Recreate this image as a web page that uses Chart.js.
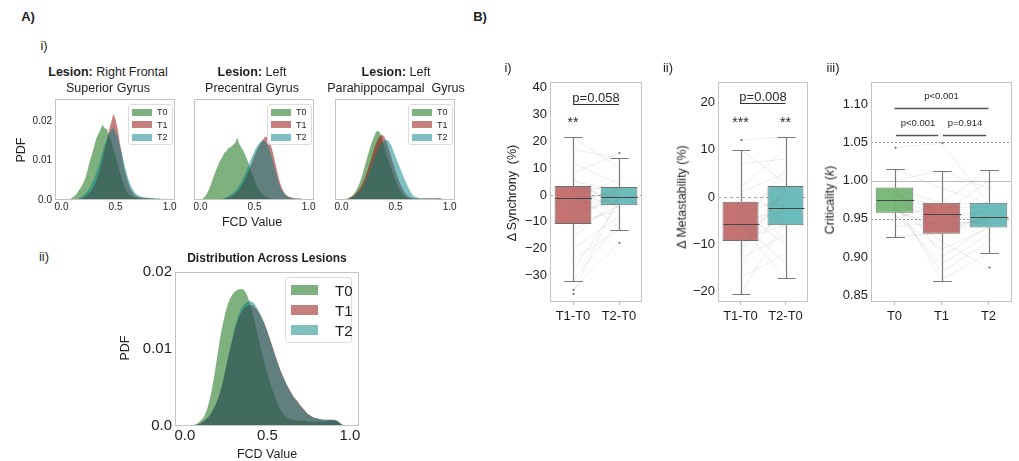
<!DOCTYPE html>
<html><head><meta charset="utf-8">
<script src="https://cdn.jsdelivr.net/npm/chart.js@4.4.1/dist/chart.umd.min.js"></script>
<style>
html,body{margin:0;padding:0;background:#fff}
body{width:1019px;height:461px;position:relative;overflow:hidden;font-family:"Liberation Sans",Arial,Helvetica,sans-serif;color:#1e1e1e}
canvas{position:absolute}
.t{position:absolute;transform:translate(-50%,-50%);white-space:nowrap;line-height:1}
.r{transform:translate(-50%,-50%) rotate(-90deg)}
.lg{position:absolute;border:1px solid #dcdcdc;border-radius:3px;background:rgba(255,255,255,0.8);box-sizing:border-box}
.pt{position:absolute}
.lt{position:absolute;transform:translateY(-50%);line-height:1;white-space:nowrap}
</style></head><body>
<canvas id="a1"></canvas><canvas id="a2"></canvas><canvas id="a3"></canvas><canvas id="a4"></canvas>
<canvas id="b1"></canvas><canvas id="b2"></canvas><canvas id="b3"></canvas>

<div class="t" style="left:28px;top:16px;font-size:13px;font-weight:bold">A)</div>
<div class="t" style="left:480px;top:16px;font-size:13px;font-weight:bold">B)</div>
<div class="t" style="left:44px;top:45px;font-size:13px">i)</div>
<div class="t" style="left:44px;top:256px;font-size:13px">ii)</div>

<div class="t" style="left:108px;top:72px;font-size:12.5px"><b>Lesion:</b> Right Frontal</div>
<div class="t" style="left:108px;top:88px;font-size:12.5px">Superior Gyrus</div>
<div class="t" style="left:252px;top:72px;font-size:12.5px"><b>Lesion:</b> Left</div>
<div class="t" style="left:252px;top:88px;font-size:12.5px">Precentral Gyrus</div>
<div class="t" style="left:396px;top:72px;font-size:12.5px"><b>Lesion:</b> Left</div>
<div class="t" style="left:396px;top:88px;font-size:12.5px">Parahippocampal&nbsp; Gyrus</div>
<div class="t r" style="left:21px;top:150px;font-size:12.5px">PDF</div>
<div class="t" style="left:252px;top:222px;font-size:12.5px">FCD Value</div>

<div class="t" style="left:267px;top:258px;font-size:12px;font-weight:bold">Distribution Across Lesions</div>
<div class="t r" style="left:125px;top:348px;font-size:12.5px">PDF</div>
<div class="t" style="left:267px;top:454px;font-size:12.5px">FCD Value</div>

<div class="t" style="left:508px;top:67px;font-size:13px">i)</div>
<div class="t" style="left:668px;top:67px;font-size:13px">ii)</div>
<div class="t" style="left:833px;top:67px;font-size:13px">iii)</div>
<div class="t r" style="left:512px;top:193px;font-size:12.5px">Δ Synchrony&nbsp; (%)</div>
<div class="t r" style="left:682px;top:197px;font-size:12.5px">Δ Metastability (%)</div>
<div class="t r" style="left:830px;top:200px;font-size:12.5px">Criticality (<i>k</i>)</div>

<script>
// ---------- data ----------
const seriesNames = ['T0', 'T1', 'T2'];
const fcdBins = [0.00,0.02,0.04,0.06,0.08,0.10,0.12,0.14,0.16,0.18,0.20,0.22,0.24,0.26,0.28,0.30,0.32,0.34,0.36,0.38,0.40,0.42,0.44,0.46,0.48,0.50,0.52,0.54,0.56,0.58,0.60,0.62,0.64,0.66,0.68,0.70,0.72,0.74,0.76,0.78,0.80,0.82,0.84,0.86,0.88,0.90,0.92,0.94,0.96,0.98,1.00];
const fcdTicks = [0, 0.5, 1.0];
const fcdTickLabels = ['0.0', '0.5', '1.0'];
const pdfTicksSmall = [0, 0.01, 0.02];
const pdfLabelsSmall = ['0.0', '0.01', '0.02'];
const pdfTicksAll = [0, 0.01, 0.02];
const pdfLabelsAll = ['0.0', '0.01', '0.02'];

// Lesion: Right Frontal Superior Gyrus
const rfsgT0 = [0,0,0,0,0.0002,0.0006,0.0010,0.0016,0.0024,0.0032, 0.0042,0.0055,0.0074,0.0096,0.0114,0.0133,0.0154,0.0166,0.0178,0.0190, 0.0181,0.0179,0.0163,0.0152,0.0126,0.0113,0.0090,0.0071,0.0051,0.0037, 0.0024,0.0016,0.0011,0.0008,0.0006,0.0005,0.0005,0.0004,0.0004,0.0004, 0.0003,0.0003,0.0003,0.0003,0.0002,0.0003,0.0002,0.0001,0,0,0];
const rfsgT1 = [0,0,0,0,0,0,0,0,0.0002,0.0004, 0.0006,0.0009,0.0013,0.0018,0.0025,0.0034,0.0047,0.0061,0.0083,0.0103, 0.0129,0.0149,0.0177,0.0196,0.0218,0.0203,0.0179,0.0143,0.0113,0.0081, 0.0058,0.0041,0.0027,0.0018,0.0012,0.0009,0.0007,0.0006,0.0005,0.0005, 0.0004,0.0004,0.0004,0.0003,0.0003,0.0003,0.0002,0.0001,0,0,0];
const rfsgT2 = [0,0,0,0,0,0,0,0.0002,0.0004,0.0007, 0.0011,0.0016,0.0022,0.0030,0.0041,0.0052,0.0068,0.0083,0.0103,0.0121, 0.0141,0.0154,0.0169,0.0177,0.0184,0.0171,0.0159,0.0137,0.0116,0.0091, 0.0071,0.0052,0.0037,0.0026,0.0018,0.0013,0.0010,0.0008,0.0007,0.0006, 0.0006,0.0005,0.0005,0.0004,0.0004,0.0004,0.0003,0.0002,0.0001,0,0];
// Lesion: Left Precentral Gyrus
const lpgT0 = [0,0.0003,0.0008,0.0016,0.0028,0.0042,0.0058,0.0073,0.0085,0.0099, 0.0107,0.0119,0.0123,0.0131,0.0134,0.0139,0.0144,0.0158,0.0141,0.0131, 0.0123,0.0109,0.0096,0.0079,0.0065,0.0049,0.0037,0.0026,0.0018,0.0012, 0.0008,0.0006,0.0004,0.0003,0.0002,0.0002,0.0001,0.0001,0.0001,0.0001, 0.0001,0.0001,0.0001,0.0001,0.0001,0.0001,0.0001,0.0001,0,0,0];
const lpgT1 = [0,0,0,0,0,0,0,0,0,0.0001, 0.0002,0.0003,0.0005,0.0007,0.0009,0.0012,0.0016,0.0021,0.0028,0.0036, 0.0046,0.0057,0.0070,0.0084,0.0098,0.0112,0.0125,0.0136,0.0146,0.0153, 0.0161,0.0157,0.0149,0.0130,0.0108,0.0084,0.0060,0.0040,0.0026,0.0017, 0.0011,0.0008,0.0006,0.0005,0.0004,0.0004,0.0004,0.0003,0.0001,0,0];
const lpgT2 = [0,0,0,0,0,0,0,0,0.0001,0.0002, 0.0003,0.0005,0.0007,0.0010,0.0013,0.0017,0.0022,0.0029,0.0037,0.0047, 0.0058,0.0071,0.0085,0.0099,0.0112,0.0124,0.0134,0.0142,0.0148,0.0151, 0.0148,0.0140,0.0126,0.0108,0.0088,0.0066,0.0046,0.0031,0.0021,0.0014, 0.0010,0.0007,0.0005,0.0004,0.0004,0.0004,0.0003,0.0002,0.0001,0,0];
// Lesion: Left Parahippocampal Gyrus
const lphgT0 = [0,0.0001,0.0002,0.0004,0.0007,0.0011,0.0017,0.0026,0.0038,0.0052, 0.0070,0.0090,0.0110,0.0128,0.0145,0.0160,0.0172,0.0175,0.0168,0.0150, 0.0130,0.0112,0.0096,0.0080,0.0064,0.0050,0.0037,0.0026,0.0017,0.0011, 0.0007,0.0005,0.0004,0.0003,0.0003,0.0003,0.0003,0.0003,0.0003,0.0003, 0.0003,0.0003,0.0003,0.0003,0.0003,0.0004,0.0003,0.0001,0,0,0];
const lphgT1 = [0,0.0001,0.0002,0.0004,0.0006,0.0009,0.0013,0.0018,0.0025,0.0034, 0.0045,0.0058,0.0074,0.0092,0.0110,0.0128,0.0143,0.0155,0.0163,0.0165, 0.0158,0.0144,0.0126,0.0108,0.0090,0.0073,0.0057,0.0043,0.0031,0.0021, 0.0014,0.0009,0.0006,0.0005,0.0004,0.0004,0.0004,0.0004,0.0004,0.0004, 0.0004,0.0004,0.0004,0.0004,0.0004,0.0005,0.0004,0.0002,0,0,0];
const lphgT2 = [0,0,0.0001,0.0002,0.0004,0.0006,0.0009,0.0013,0.0018,0.0025, 0.0034,0.0045,0.0058,0.0072,0.0088,0.0102,0.0116,0.0128,0.0138,0.0146, 0.0150,0.0152,0.0148,0.0138,0.0124,0.0110,0.0096,0.0082,0.0068,0.0055, 0.0042,0.0030,0.0020,0.0012,0.0008,0.0006,0.0004,0.0004,0.0004,0.0004, 0.0004,0.0004,0.0004,0.0004,0.0004,0.0004,0.0003,0.0002,0.0001,0,0];
// Distribution Across Lesions
const allT0 = [0,0,0.0001,0.0002,0.0004,0.0008,0.0014,0.0026,0.0044,0.0068, 0.0096,0.0122,0.0142,0.0158,0.0168,0.0174,0.0177,0.0178,0.0176,0.0168, 0.0155,0.0138,0.0120,0.0101,0.0084,0.0068,0.0054,0.0041,0.0030,0.0021, 0.0015,0.0011,0.0009,0.0008,0.0007,0.0007,0.0007,0.0006,0.0006,0.0006, 0.0006,0.0006,0.0006,0.0006,0.0007,0.0007,0.0006,0.0003,0.0001,0,0];
const allT1 = [0,0,0,0.0001,0.0002,0.0004,0.0007,0.0011,0.0017,0.0025, 0.0035,0.0049,0.0067,0.0087,0.0105,0.0122,0.0137,0.0147,0.0153,0.0156, 0.0157,0.0155,0.0150,0.0143,0.0134,0.0123,0.0110,0.0097,0.0084,0.0072, 0.0062,0.0053,0.0045,0.0038,0.0033,0.0027,0.0022,0.0017,0.0014,0.0011, 0.0010,0.0009,0.0008,0.0008,0.0008,0.0008,0.0007,0.0004,0.0001,0,0];
const allT2 = [0,0,0,0.0001,0.0002,0.0004,0.0007,0.0011,0.0017,0.0025, 0.0035,0.0049,0.0067,0.0088,0.0107,0.0125,0.0141,0.0152,0.0158,0.0161, 0.0162,0.0159,0.0152,0.0144,0.0134,0.0122,0.0109,0.0096,0.0083,0.0071, 0.0061,0.0052,0.0044,0.0037,0.0031,0.0026,0.0021,0.0016,0.0013,0.0011, 0.0010,0.0009,0.0008,0.0008,0.0008,0.0008,0.0007,0.0004,0.0001,0,0];

// B i) Δ Synchrony
const synCats = ['T1-T0', 'T2-T0'];
const synQ1 = [-10.8, -3.8];
const synQ3 = [3.3, 3.0];
const synMed = [-1.3, -0.7];
const synLo = [-32, -13];
const synHi = [21.6, 13.7];
const synFliers = [[-35.3, -36.8], [15.6, -17.8]];
const synSubjT1 = [21.5,17,12,8,5,3,2,0.5,-1,-2,-3,-4.5,-6,-8,-10,-11,-13,-16,-20,-24,-28,-32,-35.3,-36.8,1,-1.5,6];
const synSubjT2 = [10,13.7,4,15.6,2,-1,3,-4,0,1.5,-2,3,-3,0.5,-6,2.5,-4,-1,-8,-13,-3,-10,-17.8,0,-12,6,-5];
const synTicks = [-30, -20, -10, 0, 10, 20, 30, 40];
const synTickLabels = ['\u221230', '\u221220', '\u221210', '0', '10', '20', '30', '40'];

// B ii) Δ Metastability
const metCats = ['T1-T0', 'T2-T0'];
const metQ1 = [-9.3, -6.0];
const metQ3 = [-1.0, 2.3];
const metMed = [-5.8, -2.4];
const metLo = [-20.5, -17.2];
const metHi = [10, 12.7];
const metFliers = [[12], []];
const metSubjT1 = [12,10,7,4,1,-1,-2,-3,-4,-5,-6,-6.5,-7,-8,-9,-10,-11,-13,-15,-17,-20.5,2,-5.5,-12];
const metSubjT2 = [12.7,3,8,-6,5,-2,2.3,-10,0,-3,-17.2,6,-2.4,1,-6,-4,2,-8,-1,-12,-5,10,-14,1.5];
const metTicks = [-20, -10, 0, 10, 20];
const metTickLabels = ['\u221220', '\u221210', '0', '10', '20'];

// B iii) Criticality
const critCats = ['T0', 'T1', 'T2'];
const critQ1 = [0.958, 0.9305, 0.9385];
const critQ3 = [0.9908, 0.971, 0.971];
const critMed = [0.974, 0.9565, 0.952];
const critLo = [0.9267, 0.868, 0.905];
const critHi = [1.0155, 1.013, 1.014];
const critFliers = [[1.043], [1.049], [0.886]];
const critSubjT0 = [1.015,1.043,0.99,0.985,0.98,0.975,0.97,0.965,0.96,0.958,0.95,0.94,0.927,1.0,0.992,0.975,0.968,0.982,0.955,0.962];
const critSubjT1 = [0.99,1.049,0.97,0.93,0.96,0.87,0.95,0.92,0.94,0.89,0.97,0.945,0.93,1.013,0.9,0.955,0.88,0.965,0.91,0.935];
const critSubjT2 = [0.97,0.97,1.014,0.95,0.94,0.905,0.96,0.886,0.95,0.93,0.97,0.945,0.955,0.99,0.94,1.0,0.92,0.965,0.938,0.952];
const critTicks = [0.85, 0.90, 0.95, 1.00, 1.05, 1.10];
const critTickLabels = ['0.85', '0.90', '0.95', '1.00', '1.05', '1.10'];

// ---------- styles ----------
const fillColors = ['rgba(0,100,0,0.5)', 'rgba(139,0,0,0.5)', 'rgba(0,128,128,0.5)'];
const boxColors = ['rgb(122,186,122)', 'rgb(196,114,114)', 'rgb(108,188,188)'];
const TXT = '#1e1e1e';
Chart.defaults.font.family = '"Liberation Sans", Arial, Helvetica, sans-serif';
Chart.defaults.color = TXT;

function place(id, g) {
  const cv = document.getElementById(id);
  const w = g.R - g.L + g.yW + g.padR, h = g.B - g.T + g.padT + g.xH;
  cv.style.left = (g.L - g.yW) + 'px'; cv.style.top = (g.T - g.padT) + 'px';
  cv.width = w; cv.height = h; cv.style.width = w + 'px'; cv.style.height = h + 'px';
  return cv;
}

const framePlugin = {
  id: 'frame',
  afterDraw(chart) {
    const a = chart.chartArea, c = chart.ctx;
    c.save(); c.strokeStyle = '#c4c4c4'; c.lineWidth = 1;
    c.strokeRect(Math.round(a.left) + 0.5, Math.round(a.top) + 0.5, Math.round(a.right - a.left) - 1, Math.round(a.bottom - a.top) - 1);
    c.restore();
  }
};

function histChart(id, g, sets, yMax, showY, fontSize, smooth, xMin, xMax, yTicks, yLabels) {
  const cv = place(id, g);
  return new Chart(cv, {
    type: 'line',
    data: { datasets: sets.map((s, k) => ({
      label: seriesNames[k],
      data: fcdBins.map((x, i) => ({ x: x, y: s[i] })),
      backgroundColor: fillColors[k], borderWidth: 0, pointRadius: 0, fill: 'origin', order: 3 - k,
      tension: smooth ? 0.4 : 0,
      cubicInterpolationMode: smooth ? 'monotone' : 'default'
    })) },
    options: {
      responsive: false, animation: false, events: [],
      layout: { padding: { top: g.padT, right: g.padR, left: 0, bottom: 0 } },
      plugins: { legend: { display: false }, tooltip: { enabled: false } },
      scales: {
        x: { type: 'linear', min: xMin, max: xMax,
          grid: { display: false, drawTicks: false }, border: { display: false },
          afterBuildTicks: s => { s.ticks = fcdTicks.map(v => ({ value: v })); },
          afterFit: s => { s.height = g.xH; },
          ticks: { callback: (v, i) => fcdTickLabels[i], font: { size: fontSize }, padding: 1, maxRotation: 0, autoSkip: false, color: TXT } },
        y: { type: 'linear', min: 0, max: yMax,
          grid: { display: false, drawTicks: false }, border: { display: false },
          afterBuildTicks: s => { s.ticks = yTicks.map(v => ({ value: v })); },
          afterFit: s => { s.width = g.yW; },
          ticks: { display: showY, callback: (v, i) => yLabels[i], font: { size: fontSize }, padding: 3, color: TXT } }
      }
    },
    plugins: [framePlugin]
  });
}

const extras = {};
const boxPlugin = {
  id: 'boxx',
  beforeDatasetsDraw(chart) {
    const e = extras[chart.canvas.id]; const ys = chart.scales.y, a = chart.chartArea, c = chart.ctx;
    e.hlines.forEach(h => {
      c.save(); c.strokeStyle = h.color; c.lineWidth = 1; c.setLineDash(h.dash);
      const y = Math.round(ys.getPixelForValue(h.y)) + 0.5;
      c.beginPath(); c.moveTo(a.left, y); c.lineTo(a.right, y); c.stroke(); c.restore();
    });
  },
  afterDatasetsDraw(chart) {
    const e = extras[chart.canvas.id];
    const xs = chart.scales.x, ys = chart.scales.y, c = chart.ctx, meta = chart.getDatasetMeta(0);
    c.save();
    c.strokeStyle = 'rgba(110,110,110,0.16)'; c.lineWidth = 0.8;
    for (let s = 0; s < e.subj[0].length; s++) {
      c.beginPath();
      e.subj.forEach((arr, k) => { const x = xs.getPixelForValue(k), y = ys.getPixelForValue(arr[s]); k ? c.lineTo(x, y) : c.moveTo(x, y); });
      c.stroke();
    }
    e.med.forEach((m, i) => {
      const x = Math.round(xs.getPixelForValue(i)) + 0.5, hw = meta.data[i].width / 2, cw = hw / 2;
      const pq1 = ys.getPixelForValue(e.q1[i]), pq3 = ys.getPixelForValue(e.q3[i]);
      const plo = Math.round(ys.getPixelForValue(e.lo[i])) + 0.5, phi = Math.round(ys.getPixelForValue(e.hi[i])) + 0.5;
      c.strokeStyle = '#7a7a7a'; c.lineWidth = 1.2;
      c.beginPath(); c.moveTo(x, pq3); c.lineTo(x, phi); c.moveTo(x, pq1); c.lineTo(x, plo);
      c.moveTo(x - cw, phi); c.lineTo(x + cw, phi); c.moveTo(x - cw, plo); c.lineTo(x + cw, plo); c.stroke();
      const pm = Math.round(ys.getPixelForValue(m)) + 0.5;
      c.strokeStyle = '#454545'; c.lineWidth = 1.2;
      c.beginPath(); c.moveTo(x - hw, pm); c.lineTo(x + hw, pm); c.stroke();
      c.fillStyle = '#777';
      e.fliers[i].forEach(v => { c.beginPath(); c.arc(x, ys.getPixelForValue(v), 1.1, 0, Math.PI * 2); c.fill(); });
    });
    e.annots.forEach(an => {
      if (an.line) {
        const y = Math.round(ys.getPixelForValue(an.line[2])) + 0.5;
        c.strokeStyle = an.color; c.lineWidth = an.lw;
        c.beginPath(); c.moveTo(xs.getPixelForValue(an.line[0]), y); c.lineTo(xs.getPixelForValue(an.line[1]), y); c.stroke();
      } else {
        c.fillStyle = '#2a2a2a'; c.font = an.size + 'px "Liberation Sans", Arial, sans-serif';
        c.textAlign = 'center'; c.textBaseline = 'middle';
        c.fillText(an.t, xs.getPixelForValue(an.x), ys.getPixelForValue(an.y) + (an.dy || 0));
      }
    });
    c.restore();
  }
};

function boxChart(id, g, cats, q1, q3, yMin, yMax, yTicks, yLabels) {
  const cv = place(id, g);
  const cols = cats.length === 2 ? [boxColors[1], boxColors[2]] : boxColors;
  return new Chart(cv, {
    type: 'bar',
    data: { labels: cats, datasets: [{ data: cats.map((c, i) => [q1[i], q3[i]]), backgroundColor: cols,
      borderColor: '#6e6e6e', borderWidth: 1, borderSkipped: false, barPercentage: 0.8, categoryPercentage: 1 }] },
    options: {
      responsive: false, animation: false, events: [],
      layout: { padding: { top: g.padT, right: g.padR, left: 0, bottom: 0 } },
      plugins: { legend: { display: false }, tooltip: { enabled: false } },
      scales: {
        x: { grid: { display: true, offset: false, drawOnChartArea: false, drawTicks: true, tickLength: 3, color: '#bdbdbd' },
          border: { display: false }, afterFit: s => { s.height = g.xH; },
          ticks: { font: { size: 13 }, padding: 4, color: TXT, maxRotation: 0 } },
        y: { type: 'linear', min: yMin, max: yMax, grid: { display: false, drawTicks: false }, border: { display: false },
          afterBuildTicks: s => { s.ticks = yTicks.map(v => ({ value: v })); },
          afterFit: s => { s.width = g.yW; },
          ticks: { callback: (v, i) => yLabels[i], font: { size: 13 }, padding: 3, color: TXT } }
      }
    },
    plugins: [boxPlugin, framePlugin]
  });
}

// ---------- A i) ----------
const gA1 = { L: 55, T: 99, R: 175, B: 200, yW: 30, xH: 16, padT: 10, padR: 12 };
const gA2 = { L: 194, T: 99, R: 314, B: 200, yW: 6, xH: 16, padT: 10, padR: 12 };
const gA3 = { L: 335, T: 99, R: 455, B: 200, yW: 6, xH: 16, padT: 10, padR: 12 };
histChart('a1', gA1, [rfsgT0, rfsgT1, rfsgT2], 0.0255, true, 10, false, -0.06, 1.05, pdfTicksSmall, pdfLabelsSmall);
histChart('a2', gA2, [lpgT0, lpgT1, lpgT2], 0.0255, false, 10, false, -0.06, 1.05, pdfTicksSmall, pdfLabelsSmall);
histChart('a3', gA3, [lphgT0, lphgT1, lphgT2], 0.0255, false, 10, false, -0.06, 1.05, pdfTicksSmall, pdfLabelsSmall);
// ---------- A ii) ----------
const gA4 = { L: 175, T: 272, R: 359, B: 426, yW: 45, xH: 22, padT: 14, padR: 14 };
histChart('a4', gA4, [allT0, allT1, allT2], 0.02, true, 15, true, -0.06, 1.055, pdfTicksAll, pdfLabelsAll);

// ---------- B ----------
extras.b1 = { q1: synQ1, q3: synQ3, med: synMed, lo: synLo, hi: synHi, fliers: synFliers, subj: [synSubjT1, synSubjT2],
  hlines: [{ y: 0, dash: [3, 3], color: '#a8a8a8' }],
  annots: [{ t: 'p=0.058', x: 0.5, y: 36, size: 13 }, { line: [0, 1, 33.8], color: '#333', lw: 1 }, { t: '**', x: 0, y: 27.9, size: 14, dy: 3 }] };
extras.b2 = { q1: metQ1, q3: metQ3, med: metMed, lo: metLo, hi: metHi, fliers: metFliers, subj: [metSubjT1, metSubjT2],
  hlines: [{ y: 0, dash: [3, 3], color: '#a8a8a8' }],
  annots: [{ t: 'p=0.008', x: 0.5, y: 21, size: 13 }, { line: [0, 1, 19.9], color: '#333', lw: 1 },
    { t: '***', x: 0, y: 16.3, size: 14, dy: 3 }, { t: '**', x: 1, y: 16.3, size: 14, dy: 3 }] };
extras.b3 = { q1: critQ1, q3: critQ3, med: critMed, lo: critLo, hi: critHi, fliers: critFliers, subj: [critSubjT0, critSubjT1, critSubjT2],
  hlines: [{ y: 1.05, dash: [2, 2], color: '#9a9a9a' }, { y: 1.0, dash: [], color: '#bcbcbc' }, { y: 0.95, dash: [2, 2], color: '#9a9a9a' }],
  annots: [{ t: 'p<0.001', x: 1, y: 1.1105, size: 9.5 }, { line: [0, 2, 1.0948], color: '#555', lw: 1.4 },
    { t: 'p<0.001', x: 0.5, y: 1.0751, size: 9.5 }, { line: [0.03, 0.93, 1.0594], color: '#555', lw: 1.4 },
    { t: 'p=0.914', x: 1.5, y: 1.0751, size: 9.5 }, { line: [1.03, 1.95, 1.0594], color: '#555', lw: 1.4 }] };

const gB1 = { L: 550, T: 82, R: 642, B: 302, yW: 36, xH: 26, padT: 12, padR: 8 };
const gB2 = { L: 718, T: 82, R: 808, B: 302, yW: 36, xH: 26, padT: 12, padR: 8 };
const gB3 = { L: 871, T: 82, R: 1012, B: 302, yW: 42, xH: 26, padT: 12, padR: 6 };
boxChart('b1', gB1, synCats, synQ1, synQ3, -39.8, 42, synTicks, synTickLabels);
boxChart('b2', gB2, metCats, metQ1, metQ3, -22.2, 24.3, metTicks, metTickLabels);
boxChart('b3', gB3, critCats, critQ1, critQ3, 0.841, 1.129, critTicks, critTickLabels);

// ---------- legends (HTML) ----------
function legend(f) {
  const d = document.createElement('div'); d.className = 'lg';
  Object.assign(d.style, { left: f.x + 'px', top: f.y + 'px', width: f.w + 'px', height: f.h + 'px' });
  document.body.appendChild(d);
  seriesNames.forEach((n, k) => {
    const p = document.createElement('div'); p.className = 'pt';
    Object.assign(p.style, { left: f.px + 'px', top: (f.rows[k] - f.ph / 2) + 'px', width: f.pw + 'px', height: f.ph + 'px', background: fillColors[k] });
    document.body.appendChild(p);
    const t = document.createElement('div'); t.className = 'lt'; t.textContent = n;
    Object.assign(t.style, { left: f.tx + 'px', top: f.rows[k] + 'px', fontSize: f.fs + 'px' });
    document.body.appendChild(t);
  });
}
[gA1, gA2, gA3].forEach(g => legend({ x: g.R - 47, y: 104, w: 45, h: 41, px: g.R - 43, pw: 20, ph: 7, tx: g.R - 18, rows: [112, 124.5, 137], fs: 9 }));
legend({ x: 285, y: 277, w: 67, h: 66, px: 291, pw: 27, ph: 10, tx: 335, rows: [290, 310, 330], fs: 15 });
</script>
</body></html>
